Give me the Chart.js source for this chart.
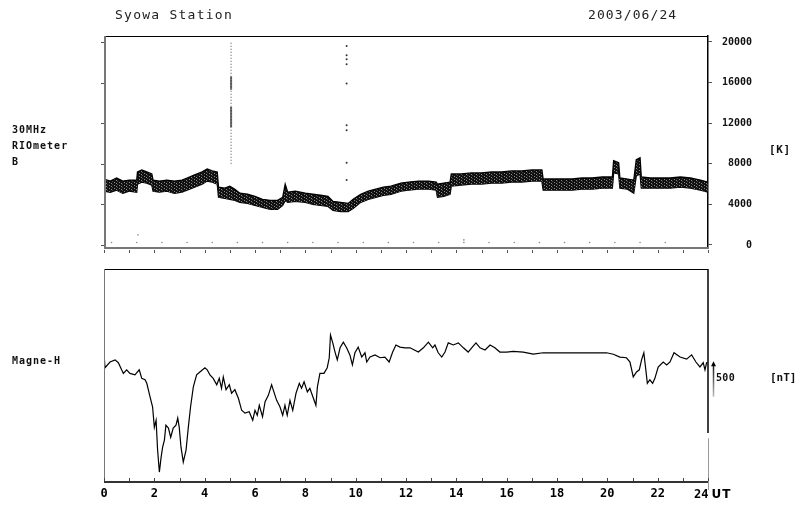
<!DOCTYPE html>
<html>
<head>
<meta charset="utf-8">
<script src="https://cdn.jsdelivr.net/npm/chart.js@4.4.1/dist/chart.umd.min.js"></script>
<style>
  body { margin: 0; background: #fff; width: 798px; height: 508px; overflow: hidden; position: relative;
         font-family: "DejaVu Sans Mono", monospace; }
  .t { position: absolute; white-space: nowrap; line-height: 1; color: #111; }
  .b { font-weight: bold; font-size: 10px; letter-spacing: 1px; }
  #top { position: absolute; left: 0; top: 0; }
  #bot { position: absolute; left: 0; top: 258px; }
</style>
</head>
<body>
<canvas id="top" width="798" height="260" style="width:798px;height:260px"></canvas>
<canvas id="bot" width="798" height="250" style="width:798px;height:250px"></canvas>

<div class="t" style="left:115px;top:8px;font-size:13px;letter-spacing:1.25px;color:#222">Syowa Station</div>
<div class="t" style="left:588px;top:8px;font-size:13px;letter-spacing:1.1px;color:#222">2003/06/24</div>
<div class="t b" style="left:12px;top:125px">30MHz</div>
<div class="t b" style="left:12px;top:141px">RIOmeter</div>
<div class="t b" style="left:12px;top:157px">B</div>
<div class="t b" style="left:769px;top:144px;font-size:11px;letter-spacing:0.6px">[K]</div>
<div class="t b" style="left:12px;top:356px">Magne-H</div>
<div class="t b" style="left:716px;top:373px;letter-spacing:0.3px">500</div>
<div class="t b" style="left:770px;top:372px;font-size:11px;letter-spacing:0px">[nT]</div>
<div class="t" style="left:694px;top:488px;font-size:12px;font-weight:bold;color:#000">24<span style="margin-left:3px;font-family:'DejaVu Sans';letter-spacing:1px">UT</span></div>

<script>
// ---- RIOmeter band (upper / lower edge of the noisy trace), hours UT and K
const rioTime  = [0, 0.25, 0.5, 0.75, 1.0, 1.3, 1.33, 1.5, 1.7, 1.9, 1.95, 2.2, 2.5, 2.8, 3.1, 3.3, 3.6, 3.9, 4.1, 4.3, 4.5,
                  4.55, 4.8, 5.0, 5.2, 5.4, 5.7, 6.0, 6.3, 6.6, 6.9, 7.1, 7.2, 7.3, 7.6, 8.0, 8.3, 8.6, 8.9, 9.1, 9.4, 9.7,
                  9.9, 10.2, 10.5, 10.8, 11.1, 11.4, 11.8, 12.1, 12.5, 12.9, 13.2, 13.25, 13.5, 13.75, 13.8, 14.2, 14.6,
                  15.0, 15.4, 15.8, 16.2, 16.6, 17.0, 17.4, 17.45, 17.8, 18.2, 18.6, 19.0, 19.4, 19.8, 20.2, 20.25, 20.45,
                  20.5, 20.8, 21.05, 21.15, 21.3, 21.35, 21.7, 22.1, 22.5, 22.9, 23.3, 23.7, 24.0];
const rioUpper = [6500, 6300, 6600, 6300, 6400, 6400, 7200, 7400, 7200, 7000, 6400, 6300, 6400, 6300, 6400, 6600, 6900, 7200, 7500, 7300, 7200,
                  5700, 5600, 5800, 5500, 5100, 5000, 4800, 4500, 4400, 4400, 4700, 6000, 5200, 5300, 5100, 5000, 4900, 4800, 4300, 4200, 4100,
                  4500, 5000, 5300, 5500, 5700, 5800, 6100, 6200, 6300, 6300, 6200, 6000, 6100, 6200, 7000, 7000, 7100,
                  7100, 7200, 7200, 7300, 7300, 7400, 7400, 6500, 6500, 6500, 6500, 6600, 6600, 6700, 6700, 8300, 8100,
                  6600, 6500, 6400, 8400, 8600, 6700, 6600, 6600, 6600, 6700, 6600, 6400, 6200];
const rioLower = [5300, 5200, 5400, 5100, 5300, 5200, 6000, 6200, 6100, 5900, 5300, 5200, 5300, 5100, 5200, 5400, 5700, 6000, 6300, 6200, 6000,
                  4700, 4600, 4500, 4400, 4200, 4100, 3900, 3700, 3500, 3500, 3900, 4400, 4200, 4300, 4200, 4000, 3900, 3800, 3400, 3300, 3300,
                  3600, 4200, 4500, 4700, 4900, 5000, 5300, 5400, 5500, 5500, 5400, 4700, 4800, 5000, 5800, 5900, 6000,
                  6000, 6100, 6100, 6200, 6200, 6300, 6300, 5400, 5400, 5400, 5400, 5500, 5500, 5600, 5600, 7100, 7000,
                  5600, 5500, 5100, 6800, 7000, 5600, 5600, 5600, 5600, 5700, 5600, 5400, 5200];

// noise spikes (vertical dotted columns)
const spikeATime = 5.05;
const spikeARange = [8000, 20000];
const spikeADense = [[16600, 15300], [13600, 11600]];
const spikeBTime = 9.64;
const spikeBK = [19600, 18700, 18300, 17800, 15900, 11800, 11300, 8100, 6400];
const strayTime = [0.3, 1.3, 1.35, 2.3, 3.3, 4.3, 5.3, 6.3, 7.3, 8.3, 9.3, 10.3, 11.3, 12.3, 13.3, 14.3, 14.3, 15.3, 16.3, 17.3, 18.3, 19.3, 20.3, 21.3, 22.3];
const strayK    = [250, 250, 1000, 250, 250, 250, 250, 250, 250, 250, 250, 250, 250, 250, 250, 250, 500, 250, 250, 250, 250, 250, 250, 250, 250];
const rioTicks = [0, 4000, 8000, 12000, 16000, 20000];

// ---- Magnetometer H component, hours UT and nT (relative)
const magTime = [0, 0.01, 0.04, 0.24, 0.44, 0.57, 0.70, 0.77, 0.90, 1.03, 1.23, 1.40, 1.50, 1.63, 1.70, 1.83, 1.93, 2.00, 2.07, 2.13,
                 2.20, 2.27, 2.33, 2.40, 2.46, 2.56, 2.65, 2.75, 2.86, 2.93, 2.99, 3.06, 3.15, 3.26, 3.35, 3.44, 3.55, 3.68, 3.81,
                 4.01, 4.10, 4.21, 4.34, 4.48, 4.58, 4.67, 4.74, 4.85, 4.98, 5.07, 5.20, 5.34, 5.47, 5.60, 5.77, 5.91, 6.00, 6.09,
                 6.17, 6.30, 6.40, 6.53, 6.66, 6.75, 6.86, 6.99, 7.10, 7.19, 7.28, 7.39, 7.50, 7.63, 7.76, 7.85, 7.95, 8.08, 8.18,
                 8.32, 8.42, 8.48, 8.58, 8.74, 8.87, 8.95, 9.00, 9.09, 9.18, 9.27, 9.38, 9.51, 9.64, 9.77, 9.87, 9.97, 10.10, 10.24,
                 10.37, 10.44, 10.57, 10.77, 10.97, 11.16, 11.33, 11.47, 11.60, 11.76, 11.96, 12.16, 12.49, 12.69, 12.89, 13.06,
                 13.15, 13.28, 13.42, 13.55, 13.68, 13.88, 14.08, 14.28, 14.47, 14.61, 14.78, 14.94, 15.14, 15.34, 15.53, 15.73,
                 16.00, 16.26, 16.66, 17.06, 17.45, 17.85, 18.38, 18.91, 19.44, 19.97, 20.24, 20.50, 20.76, 20.90, 21.03, 21.16,
                 21.27, 21.36, 21.45, 21.53, 21.59, 21.69, 21.80, 21.89, 22.02, 22.22, 22.36, 22.49, 22.65, 22.89, 23.15, 23.35,
                 23.52, 23.68, 23.81, 23.88, 23.95];
const magH = [170, 1760, 1610, 1690, 1720, 1680, 1580, 1530, 1580, 1530, 1510, 1580, 1460, 1440, 1390, 1200, 1060, 770, 870, 450,
              140, 350, 490, 590, 800, 760, 630, 760, 800, 900, 770, 490, 280, 450, 770, 1060, 1340, 1510, 1550,
              1610, 1580, 1510, 1460, 1370, 1460, 1320, 1480, 1300, 1370, 1250, 1300, 1180, 1010, 970, 990, 870, 1010, 940,
              1080, 920, 1130, 1220, 1370, 1270, 1150, 1060, 940, 1080, 940, 1150, 1010, 1250, 1390, 1320, 1410, 1270, 1320,
              1180, 1080, 1340, 1530, 1530, 1610, 1750, 2070, 1960, 1830, 1720, 1890, 1970, 1890, 1790, 1650, 1820, 1900, 1760,
              1820, 1690, 1760, 1790, 1750, 1760, 1690, 1830, 1930, 1900, 1890, 1890, 1830, 1890, 1970, 1890,
              1930, 1820, 1760, 1830, 1960, 1930, 1960, 1890, 1830, 1890, 1960, 1890, 1860, 1930, 1890, 1830,
              1830, 1840, 1830, 1800, 1820, 1820, 1820, 1820, 1820, 1820, 1800, 1760, 1750, 1690, 1480, 1550,
              1580, 1720, 1820, 1580, 1390, 1440, 1390, 1460, 1620, 1690, 1650, 1690, 1820, 1760, 1730, 1790,
              1690, 1620, 1680, 1580, 1690];
const magBar = [1200, 1700];           // 500 nT scale arrow
const hourLabels = [0, 2, 4, 6, 8, 10, 12, 14, 16, 18, 20, 22, 24];

Chart.defaults.font.family = '"DejaVu Sans Mono", monospace';
Chart.defaults.color = '#111';

function pts(xs, ys) { return xs.map((x, i) => ({ x, y: ys[i] })); }
function seg(ctx, x1, y1, x2, y2) { ctx.beginPath(); ctx.moveTo(x1, y1); ctx.lineTo(x2, y2); ctx.stroke(); }

// speckled fill so the band looks like dense dots
const topCanvas = document.getElementById('top');
const grain = (() => {
  const c = document.createElement('canvas'); c.width = 5; c.height = 3;
  const g = c.getContext('2d');
  g.fillStyle = '#111'; g.fillRect(0, 0, 5, 3);
  g.fillStyle = '#8a8a8a'; g.fillRect(1, 0, 1, 1); g.fillRect(4, 2, 1, 1);
  g.fillStyle = '#444'; g.fillRect(2, 1, 1, 1);
  return topCanvas.getContext('2d').createPattern(c, 'repeat');
})();

const frameTop = {
  id: 'frameTop',
  afterDatasetsDraw(chart) {
    const { ctx, chartArea: a, scales: { x, y } } = chart;
    ctx.save();
    ctx.lineWidth = 1; ctx.strokeStyle = '#000';
    seg(ctx, a.left, a.top + 0.5, a.right, a.top + 0.5);
    ctx.lineWidth = 2; ctx.strokeStyle = '#777';
    seg(ctx, a.left + 1, a.top, a.left + 1, a.bottom + 1);
    seg(ctx, a.left, a.bottom, a.right, a.bottom);
    ctx.lineWidth = 1; ctx.strokeStyle = '#555';
    for (let h = 0; h <= 24; h++) {
      const px = Math.round(x.getPixelForValue(h)) + 0.5;
      seg(ctx, px, a.bottom + 2, px, a.bottom + 5);
    }
    for (const v of rioTicks) {
      const py = Math.round(y.getPixelForValue(v)) + 0.5;
      seg(ctx, a.left - 3, py, a.left, py);
    }
    ctx.restore();
  }
};

const frameBot = {
  id: 'frameBot',
  afterDatasetsDraw(chart) {
    const { ctx, chartArea: a, scales: { x, y } } = chart;
    ctx.save();
    ctx.lineWidth = 1; ctx.strokeStyle = '#000';
    seg(ctx, a.left, a.top + 0.5, a.right, a.top + 0.5);
    ctx.strokeStyle = '#777';
    seg(ctx, a.left + 0.5, a.top, a.left + 0.5, a.bottom);
    ctx.lineWidth = 1.5; ctx.strokeStyle = '#000';
    seg(ctx, a.right, a.top, a.right, a.top + a.height * 0.77);
    ctx.lineWidth = 1; ctx.strokeStyle = '#999';
    seg(ctx, a.right + 0.5, a.top + a.height * 0.795, a.right + 0.5, a.bottom + 8);
    ctx.lineWidth = 2; ctx.strokeStyle = '#333';
    seg(ctx, a.left, a.bottom, a.right, a.bottom);
    ctx.lineWidth = 1; ctx.strokeStyle = '#444';
    for (let h = 0; h <= 24; h++) {
      const px = Math.round(x.getPixelForValue(h)) + 0.5;
      seg(ctx, px, a.bottom - 4, px, a.bottom - 1);
    }
    // 500 nT arrow
    const ax = a.right + 5.5;
    const yTop = y.getPixelForValue(magBar[1]);
    const yBot = y.getPixelForValue(magBar[0]);
    const grad = ctx.createLinearGradient(0, yTop, 0, yBot);
    grad.addColorStop(0, '#000'); grad.addColorStop(1, '#bbb');
    ctx.strokeStyle = grad; ctx.lineWidth = 1.5;
    seg(ctx, ax, yTop + 3, ax, yBot);
    ctx.fillStyle = '#000';
    ctx.beginPath(); ctx.moveTo(ax, yTop); ctx.lineTo(ax - 2.5, yTop + 5); ctx.lineTo(ax + 2.5, yTop + 5); ctx.closePath(); ctx.fill();
    ctx.restore();
  }
};

new Chart(topCanvas, {
  type: 'line',
  data: {
    datasets: [
      { data: pts(rioTime, rioUpper), borderColor: '#000', borderWidth: 1.3, pointRadius: 0, tension: 0,
        fill: '+1', backgroundColor: grain },
      { data: pts(rioTime, rioLower), borderColor: '#000', borderWidth: 1.3, pointRadius: 0, tension: 0, fill: false },
      { data: spikeARange.map(v => ({ x: spikeATime, y: v })), borderColor: '#888', borderWidth: 1.5,
        borderDash: [1, 2], pointRadius: 0, fill: false },
      ...spikeADense.map(r => ({ data: r.map(v => ({ x: spikeATime, y: v })), borderColor: '#555',
        borderWidth: 2, pointRadius: 0, fill: false })),
      { data: spikeBK.map(v => ({ x: spikeBTime, y: v })), showLine: false, pointRadius: 1, pointBorderWidth: 0,
        pointBackgroundColor: '#333' },
      { data: pts(strayTime, strayK), showLine: false, pointRadius: 0.8, pointBorderWidth: 0,
        pointBackgroundColor: '#888' }
    ]
  },
  options: {
    responsive: false, animation: false, events: [],
    layout: { padding: { left: 104, top: 36, right: 46, bottom: 12 } },
    plugins: { legend: { display: false }, tooltip: { enabled: false } },
    scales: {
      x: { type: 'linear', min: 0, max: 24, display: false },
      y: {
        position: 'right', min: -296, max: 20591,
        afterBuildTicks: s => { s.ticks = rioTicks.map(v => ({ value: v })); },
        afterFit: s => { s.width = 44; s.paddingTop = 0; s.paddingBottom = 0; },
        ticks: { crossAlign: 'far', padding: 5, color: '#111', font: { size: 10, weight: 'bold' },
                 callback: v => String(v) },
        grid: { drawOnChartArea: false, tickLength: 4, color: '#555' },
        border: { color: '#000', width: 1.5 }
      }
    }
  },
  plugins: [frameTop]
});

new Chart(document.getElementById('bot'), {
  type: 'line',
  data: {
    datasets: [
      { data: pts(magTime, magH), borderColor: '#000', borderWidth: 1.2, pointRadius: 0, tension: 0, fill: false }
    ]
  },
  options: {
    responsive: false, animation: false, events: [],
    layout: { padding: { left: 104, top: 11, right: 90, bottom: 0 } },
    plugins: { legend: { display: false }, tooltip: { enabled: false } },
    scales: {
      x: {
        type: 'linear', min: 0, max: 24,
        afterBuildTicks: s => { s.ticks = hourLabels.map(v => ({ value: v })); },
        afterFit: s => { s.height = 26; s.paddingLeft = 0; s.paddingRight = 0; },
        ticks: { autoSkip: false, maxRotation: 0, padding: 5, color: '#000', font: { size: 12, weight: 'bold' },
                 callback: v => (v === 24 ? '' : String(v)) },
        grid: { display: false, drawTicks: false },
        border: { display: false }
      },
      y: { display: false, min: 0, max: 3000 }
    }
  },
  plugins: [frameBot]
});
</script>
</body>
</html>
